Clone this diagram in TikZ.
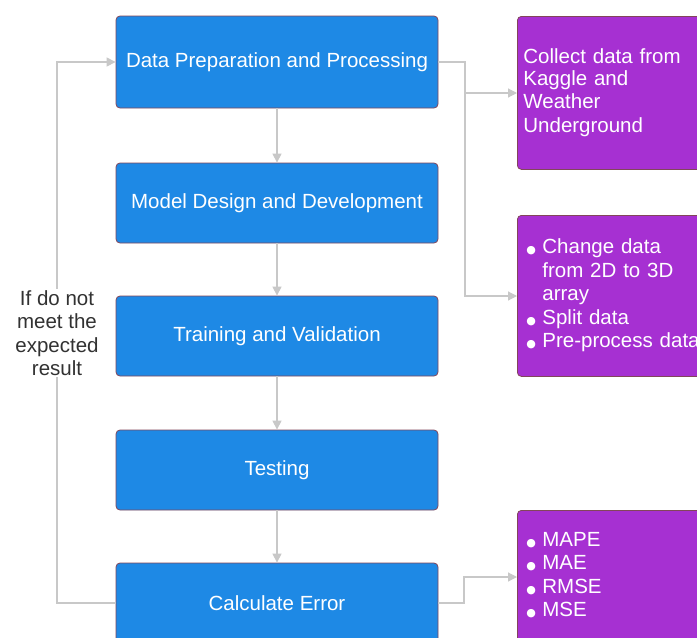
\documentclass[tikz,border=0pt]{standalone}
\usepackage{fontspec}
\setmainfont{Liberation Sans}
\newfontfamily\dejavu{DejaVu Sans}
\usetikzlibrary{arrows.meta,positioning,calc}
\definecolor{bluebox}{RGB}{30,137,229}
\definecolor{purplebox}{RGB}{166,48,210}
\definecolor{boxborder}{RGB}{130,70,90}
\definecolor{conn}{RGB}{200,200,200}
\definecolor{labeltext}{RGB}{50,50,50}
\newcommand{\bul}{\makebox[19pt][l]{\hspace{3pt}\raisebox{0pt}{\dejavu\fontsize{11}{11}\selectfont ●}}}
\tikzset{
  stepbox/.style={draw=boxborder, line width=0.8pt, fill=bluebox, rounded corners=4pt,
    minimum width=322pt, minimum height=80pt, text=white, align=center,
    font=\fontsize{20.5}{23.5}\selectfont, inner sep=0pt},
  infobox/.style={draw=boxborder, line width=0.8pt, fill=purplebox, rounded corners=4pt,
    minimum width=202pt, text width=190pt, inner xsep=6pt, inner ysep=0pt, text=white, align=left,
    font=\fontsize{20.5}{23.5}\selectfont},
  conn/.style={draw=conn, line width=1.2pt, -{Triangle[length=9pt,width=9pt]}},
  loopnote/.style={fill=white, text=labeltext, align=center, inner sep=1pt,
    font=\fontsize{20.5}{23.5}\selectfont}
}
\begin{document}
\begin{tikzpicture}[x=1pt,y=-1pt]
\useasboundingbox (0,0) rectangle (697,638);
\clip (0,0) rectangle (697,638);
\fill[white] (0,0) rectangle (697,638);
% blue boxes
\node[stepbox, minimum height=92pt] (prep) at (277,62) {\raisebox{-2pt}{Data Preparation and Processing}};
\node[stepbox] (model) at (277,203) {\raisebox{-1pt}{Model Design and Development}};
\node[stepbox] (train) at (277,336) {\raisebox{-1pt}{Training and Validation}};
\node[stepbox] (test) at (277,470) {Testing};
\node[stepbox] (calc) at (277,603) {Calculate Error};
% purple boxes
\node[infobox, minimum height=153pt, anchor=north west] (collect) at (517,16)
  {\raisebox{-2pt}{Collect data from}\\Kaggle and\\Weather\\Underground};
\node[infobox, minimum height=161pt, anchor=north west] (proc) at (517,215)
  {\begin{tabular}{@{}l@{}l@{}}
   \bul & Change data\\
        & from 2D to 3D\\
        & array\\
   \bul & Split data\\
   \bul & Pre-process data
   \end{tabular}};
\node[infobox, minimum height=133pt, anchor=north west] (metrics) at (517,510)
  {\begin{tabular}{@{}l@{}l@{}}
   \bul & MAPE\\
   \bul & MAE\\
   \bul & RMSE\\
   \bul & MSE
   \end{tabular}};
% junction coordinates
\coordinate (j1) at (465,62);
\coordinate (j2) at (464,603);
\coordinate (lp) at (57,603);
\coordinate (lt) at (57,62);
% vertical flow
\draw[conn] (prep) -- (model);
\draw[conn] (model) -- (train);
\draw[conn] (train) -- (test);
\draw[conn] (test) -- (calc);
% branches
\draw[conn] (prep.east) -- (j1) |- (collect.west |- 0,93);
\draw[conn] (j1) |- (proc.west |- 0,296);
\draw[conn] (calc.east) -- (j2) |- (metrics.west |- 0,577);
% feedback loop
\draw[conn] (calc.west) -- (lp) -- (lt) -- (prep.west);
\node[loopnote] (note) at (57,333) {If do not\\meet the\\expected\\result};
\end{tikzpicture}
\end{document}
